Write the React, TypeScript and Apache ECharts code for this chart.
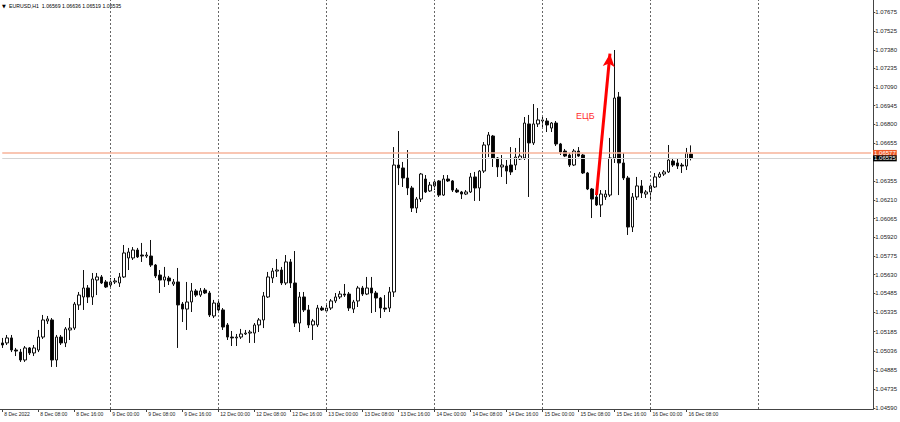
import React, { useEffect, useRef } from "react";
import * as echarts from "echarts";

// ---- data (EURUSD H1) ----
const days = ["8 Dec", "9 Dec", "12 Dec", "13 Dec", "14 Dec", "15 Dec", "16 Dec", "19 Dec", "20 Dec"];
const slotCount = 194; // includes empty future slots on the right
const firstLabel = "8 Dec 2022";

const opens = [
  1.05097, 1.05097, 1.05136, 1.05042, 1.05026, 1.04964, 1.05058, 1.05019, 1.05042, 1.05143,
  1.05268, 1.05276, 1.04964, 1.05143, 1.05097, 1.05198, 1.05213, 1.05393, 1.05455, 1.05525,
  1.05455, 1.05587, 1.05611, 1.05572, 1.05548, 1.05572, 1.05564, 1.05611, 1.05759, 1.05759,
  1.05821, 1.05782, 1.05774, 1.05774, 1.05704, 1.05626, 1.05587, 1.05603, 1.05556, 1.05572,
  1.05400, 1.05361, 1.05416, 1.05502, 1.05470, 1.05509, 1.05486, 1.05307, 1.05408, 1.05354,
  1.05237, 1.05143, 1.05136, 1.05143, 1.05167, 1.05174, 1.05174, 1.05237, 1.05276, 1.05455,
  1.05603, 1.05657, 1.05665, 1.05564, 1.05728, 1.05564, 1.05252, 1.05455, 1.05354, 1.05237,
  1.05237, 1.05369, 1.05346, 1.05369, 1.05424, 1.05455, 1.05478, 1.05478, 1.05361, 1.05424,
  1.05525, 1.05478, 1.05525, 1.05486, 1.05447, 1.05369, 1.05369, 1.05494, 1.06483, 1.06460,
  1.06382, 1.06304, 1.06148, 1.06218, 1.06374, 1.06281, 1.06320, 1.06359, 1.06249, 1.06374,
  1.06359, 1.06288, 1.06273, 1.06257, 1.06273, 1.06390, 1.06304, 1.06436, 1.06639, 1.06709,
  1.06538, 1.06468, 1.06475, 1.06483, 1.06483, 1.06530, 1.06538, 1.06803, 1.06655, 1.06803,
  1.06834, 1.06826, 1.06771, 1.06810, 1.06647, 1.06592, 1.06561, 1.06483, 1.06592, 1.06561,
  1.06421, 1.06296, 1.06234, 1.06172, 1.06234, 1.06249, 1.06538, 1.07013, 1.06499, 1.06382,
  1.06000, 1.06234, 1.06320, 1.06257, 1.06273, 1.06312, 1.06390, 1.06413, 1.06429, 1.06514,
  1.06499, 1.06483, 1.06475, 1.06569,
];
const closes = [
  1.05081, 1.05136, 1.05042, 1.05034, 1.04964, 1.05058, 1.05019, 1.05058, 1.05143, 1.05276,
  1.05284, 1.04964, 1.05143, 1.05097, 1.05206, 1.05213, 1.05400, 1.05470, 1.05525, 1.05455,
  1.05595, 1.05611, 1.05564, 1.05533, 1.05572, 1.05580, 1.05611, 1.05798, 1.05805, 1.05821,
  1.05767, 1.05774, 1.05782, 1.05704, 1.05619, 1.05587, 1.05611, 1.05580, 1.05572, 1.05393,
  1.05361, 1.05416, 1.05502, 1.05470, 1.05502, 1.05486, 1.05315, 1.05408, 1.05354, 1.05221,
  1.05143, 1.05136, 1.05143, 1.05167, 1.05174, 1.05182, 1.05237, 1.05276, 1.05463, 1.05611,
  1.05657, 1.05665, 1.05564, 1.05728, 1.05564, 1.05252, 1.05455, 1.05354, 1.05237, 1.05268,
  1.05369, 1.05354, 1.05369, 1.05424, 1.05455, 1.05478, 1.05470, 1.05369, 1.05416, 1.05525,
  1.05478, 1.05525, 1.05486, 1.05447, 1.05369, 1.05361, 1.05494, 1.06483, 1.06460, 1.06382,
  1.06304, 1.06148, 1.06218, 1.06413, 1.06273, 1.06327, 1.06351, 1.06249, 1.06374, 1.06359,
  1.06288, 1.06273, 1.06257, 1.06273, 1.06390, 1.06304, 1.06436, 1.06639, 1.06717, 1.06538,
  1.06468, 1.06483, 1.06436, 1.06429, 1.06545, 1.06553, 1.06810, 1.06655, 1.06803, 1.06834,
  1.06826, 1.06795, 1.06810, 1.06647, 1.06584, 1.06553, 1.06483, 1.06592, 1.06553, 1.06421,
  1.06296, 1.06218, 1.06172, 1.06257, 1.06257, 1.06538, 1.07005, 1.06499, 1.06382, 1.06000,
  1.06234, 1.06320, 1.06265, 1.06273, 1.06320, 1.06390, 1.06413, 1.06429, 1.06522, 1.06483,
  1.06475, 1.06475, 1.06577, 1.06535,
];
const lows = [
  1.05058, 1.05081, 1.05026, 1.04995, 1.04949, 1.04949, 1.05003, 1.04995, 1.05026, 1.05128,
  1.05245, 1.04910, 1.04910, 1.05081, 1.05065, 1.05120, 1.05198, 1.05354, 1.05354, 1.05408,
  1.05393, 1.05470, 1.05556, 1.05525, 1.05533, 1.05556, 1.05533, 1.05603, 1.05665, 1.05743,
  1.05759, 1.05728, 1.05759, 1.05689, 1.05603, 1.05486, 1.05533, 1.05548, 1.05541, 1.05058,
  1.05260, 1.05198, 1.05338, 1.05455, 1.05455, 1.05478, 1.05299, 1.05291, 1.05338, 1.05198,
  1.05120, 1.05073, 1.05073, 1.05128, 1.05159, 1.05097, 1.05097, 1.05182, 1.05213, 1.05447,
  1.05564, 1.05611, 1.05548, 1.05548, 1.05525, 1.05221, 1.05182, 1.05338, 1.05213, 1.05120,
  1.05221, 1.05346, 1.05338, 1.05354, 1.05408, 1.05439, 1.05455, 1.05346, 1.05330, 1.05377,
  1.05463, 1.05470, 1.05330, 1.05338, 1.05291, 1.05338, 1.05338, 1.05455, 1.06327, 1.06312,
  1.06249, 1.06117, 1.06109, 1.06195, 1.06265, 1.06273, 1.06288, 1.06234, 1.06242, 1.06351,
  1.06273, 1.06265, 1.06218, 1.06249, 1.06265, 1.06203, 1.06203, 1.06421, 1.06545, 1.06468,
  1.06390, 1.06390, 1.06335, 1.06405, 1.06444, 1.06522, 1.06522, 1.06234, 1.06639, 1.06779,
  1.06779, 1.06740, 1.06740, 1.06631, 1.06561, 1.06545, 1.06468, 1.06475, 1.06545, 1.06413,
  1.06288, 1.06070, 1.06164, 1.06078, 1.06211, 1.06234, 1.06499, 1.06249, 1.06366, 1.05938,
  1.05961, 1.06211, 1.06226, 1.06226, 1.06211, 1.06304, 1.06382, 1.06398, 1.06421, 1.06468,
  1.06452, 1.06421, 1.06444, 1.06519,
];
const highs = [
  1.05136, 1.05159, 1.05159, 1.05058, 1.05050, 1.05073, 1.05065, 1.05081, 1.05198, 1.05315,
  1.05307, 1.05291, 1.05159, 1.05159, 1.05221, 1.05291, 1.05416, 1.05494, 1.05665, 1.05548,
  1.05642, 1.05642, 1.05626, 1.05587, 1.05603, 1.05603, 1.05642, 1.05860, 1.05837, 1.05844,
  1.05837, 1.05876, 1.05805, 1.05899, 1.05712, 1.05665, 1.05689, 1.05619, 1.05595, 1.05681,
  1.05416, 1.05572, 1.05564, 1.05517, 1.05525, 1.05525, 1.05502, 1.05432, 1.05424, 1.05369,
  1.05252, 1.05190, 1.05167, 1.05206, 1.05198, 1.05198, 1.05252, 1.05291, 1.05494, 1.05650,
  1.05681, 1.05751, 1.05689, 1.05782, 1.05751, 1.05813, 1.05494, 1.05494, 1.05393, 1.05284,
  1.05393, 1.05385, 1.05393, 1.05439, 1.05486, 1.05502, 1.05556, 1.05494, 1.05432, 1.05541,
  1.05541, 1.05611, 1.05611, 1.05502, 1.05455, 1.05470, 1.05533, 1.06623, 1.06748, 1.06507,
  1.06600, 1.06320, 1.06234, 1.06421, 1.06405, 1.06351, 1.06366, 1.06366, 1.06405, 1.06405,
  1.06366, 1.06304, 1.06281, 1.06288, 1.06421, 1.06429, 1.06444, 1.06662, 1.06740, 1.06717,
  1.06545, 1.06561, 1.06522, 1.06623, 1.06616, 1.06694, 1.06857, 1.06873, 1.06958, 1.06927,
  1.06857, 1.06849, 1.06818, 1.06826, 1.06655, 1.06608, 1.06577, 1.06608, 1.06623, 1.06569,
  1.06429, 1.06304, 1.06265, 1.06288, 1.06288, 1.06694, 1.07379, 1.07052, 1.06577, 1.06398,
  1.06265, 1.06390, 1.06366, 1.06288, 1.06343, 1.06421, 1.06429, 1.06444, 1.06639, 1.06538,
  1.06530, 1.06499, 1.06616, 1.06636,
];

const yTicks = [
  1.07675, 1.07525, 1.0738, 1.07235, 1.0709, 1.06945, 1.068, 1.06655, 1.06355, 1.0621,
  1.06065, 1.0592, 1.05775, 1.0563, 1.05485, 1.05335, 1.05185, 1.05036, 1.04885, 1.04735, 1.0459,
];
const dayLineIndices = [24, 48, 72, 96, 120, 144, 168];
const bidPrice = 1.06535;
const askPrice = 1.06577;
const arrowFrom = [132, 1.06249];
const arrowTo = [135, 1.0735];
const header = "EURUSD,H1  1.06569 1.06636 1.06519 1.06535";
const annotation = "ЕЦБ";

const FONT = "Liberation Sans, Arial, sans-serif";

export default function App() {
  const ref = useRef<HTMLDivElement>(null);
  useEffect(() => {
    if (!ref.current) return;
    const chart = echarts.init(ref.current, null, { renderer: "svg" });
    const categories: string[] = [];
    for (let d = 0; d < days.length && categories.length < slotCount; d++) {
      for (let h = 0; h < 24 && categories.length < slotCount; h++) {
        categories.push(`${days[d]} ${String(h).padStart(2, "0")}:00`);
      }
    }
    categories[0] = firstLabel;
    const lastIdx = opens.length - 1;
    const candles = opens.map((o, i) => [o, closes[i], lows[i], highs[i]]);
    const showIdx = (i: number) => i % 8 === 0 && i <= lastIdx;
    const firstSlot = 0;
    const lastSlot = slotCount - 1;

    const priceLine = (v: number, lineColor: string, lw: number, bg: string) => [
      {
        coord: [firstSlot, v],
        lineStyle: { color: lineColor, type: "solid", width: lw },
        label: {
          show: true,
          position: "end",
          distance: 2,
          formatter: v.toFixed(5),
          backgroundColor: bg,
          color: "#fff",
          fontSize: 6,
          padding: [0, 1],
          fontFamily: FONT,
        },
      },
      { coord: [lastSlot, v] },
    ];

    chart.setOption({
      animation: false,
      backgroundColor: "#ffffff",
      grid: { left: -3, right: 23, top: 0, bottom: 13, containLabel: false },
      xAxis: {
        type: "category",
        data: categories,
        boundaryGap: true,
        axisLine: { show: true, lineStyle: { color: "#444", width: 1 } },
        axisTick: {
          show: true,
          alignWithLabel: true,
          interval: (i: number) => showIdx(i),
          length: 3,
          lineStyle: { color: "#444" },
        },
        axisLabel: {
          interval: (i: number) => showIdx(i),
          align: "left",
          margin: 2,
          padding: [0, 0, 0, 2],
          fontSize: 5,
          color: "#222",
          fontFamily: FONT,
        },
        splitLine: { show: false },
      },
      yAxis: {
        type: "value",
        position: "right",
        min: 1.045824,
        max: 1.077685,
        axisLine: { show: true, lineStyle: { color: "#444", width: 1 } },
        axisTick: { show: true, length: 2, customValues: yTicks, lineStyle: { color: "#444" } },
        axisLabel: {
          customValues: yTicks,
          formatter: (v: number) => v.toFixed(5),
          fontSize: 6,
          margin: 2,
          color: "#222",
          fontFamily: FONT,
        },
        splitLine: { show: false },
      },
      series: [
        {
          type: "candlestick",
          data: candles,
          barWidth: 3,
          itemStyle: {
            color: "#ffffff",
            color0: "#000000",
            borderColor: "#111111",
            borderColor0: "#111111",
            borderWidth: 1,
          },
          markLine: {
            silent: true,
            animation: false,
            symbol: ["none", "none"],
            data: [
              ...dayLineIndices.map((idx) => ({
                xAxis: idx,
                lineStyle: { color: "#666", type: [2, 2], width: 1 },
                label: { show: false },
              })),
              priceLine(askPrice, "#f7b39a", 1.5, "#f05a28"),
              priceLine(bidPrice, "#d4d4d4", 1, "#000"),
              [
                {
                  coord: arrowFrom,
                  symbol: "none",
                  lineStyle: { color: "#ff0000", width: 3, type: "solid" },
                  label: { show: false },
                },
                { coord: arrowTo, symbol: "arrow", symbolSize: [9, 13] },
              ],
            ],
          },
        },
      ],
      graphic: [
        { type: "text", left: 2, top: 3, style: { text: "▼", fontSize: 5, fill: "#000", fontFamily: "DejaVu Sans" } },
        { type: "text", left: 9, top: 3, style: { text: header, fontSize: 5.2, fill: "#000", fontFamily: FONT } },
        {
          type: "text",
          left: 576,
          top: 111,
          style: { text: annotation, fontSize: 9, fill: "#ff3030", fontFamily: FONT },
        },
      ],
    });
    return () => chart.dispose();
  }, []);
  return (
    <div
      ref={ref}
      style={{ position: "fixed", left: 0, top: 0, width: 900, height: 422, background: "#fff" }}
    />
  );
}
